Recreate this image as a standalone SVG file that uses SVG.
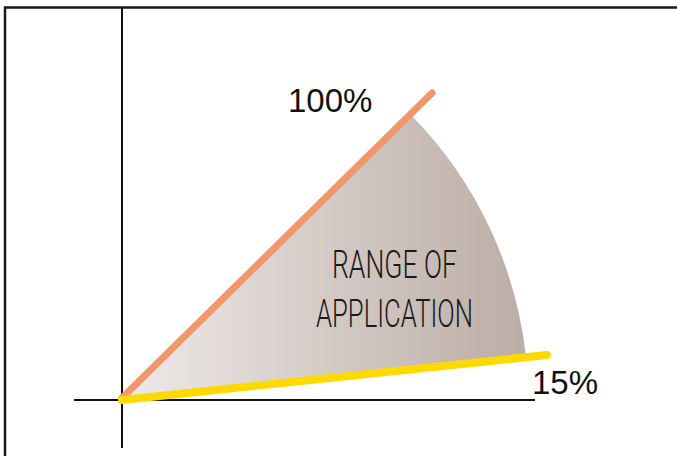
<svg xmlns="http://www.w3.org/2000/svg" width="677" height="456" viewBox="0 0 677 456">
<defs>
<linearGradient id="wg" gradientUnits="userSpaceOnUse" x1="121" y1="0" x2="526" y2="0">
<stop offset="0" stop-color="#eeeae8"/>
<stop offset="1" stop-color="#bbada5"/>
</linearGradient>
<style>
.frame{fill:none;stroke:#1a1a1a;stroke-width:2.5}
.axis{stroke:#111;stroke-width:2}
.pct{font-family:"Liberation Sans",Arial,sans-serif;font-size:33px;fill:#111}
.lbl{font-family:Roboto,"Liberation Sans Narrow",sans-serif;font-weight:300;font-size:39px;fill:#1a1a1a}
</style>
</defs>
<rect width="677" height="456" fill="#fff"/>
<path class="frame" d="M5,456 V7.5 H677"/>
<g id="wedge">
<path d="M121,400 L412,116 A407,407 0 0 1 526,357 Z" fill="url(#wg)"/>
</g>
<g id="axes">
<line class="axis" x1="122" y1="8" x2="122" y2="448"/>
<line class="axis" x1="74" y1="400" x2="535" y2="400"/>
</g>
<g id="connectors">
<line x1="122" y1="398" x2="432" y2="93" stroke="#f0976d" stroke-width="7" stroke-linecap="round"/>
<line x1="122" y1="400" x2="547" y2="355" stroke="#ffd900" stroke-width="8" stroke-linecap="round"/>
</g>
<g id="label-100">
<text class="pct" x="288" y="112">100%</text>
</g>
<g id="label-15">
<text class="pct" x="532" y="394">15%</text>
</g>
<g id="label-range">
<text class="lbl" x="332" y="278" textLength="125" lengthAdjust="spacingAndGlyphs">RANGE OF</text>
<text class="lbl" x="316" y="327" textLength="157" lengthAdjust="spacingAndGlyphs">APPLICATION</text>
</g>
</svg>
